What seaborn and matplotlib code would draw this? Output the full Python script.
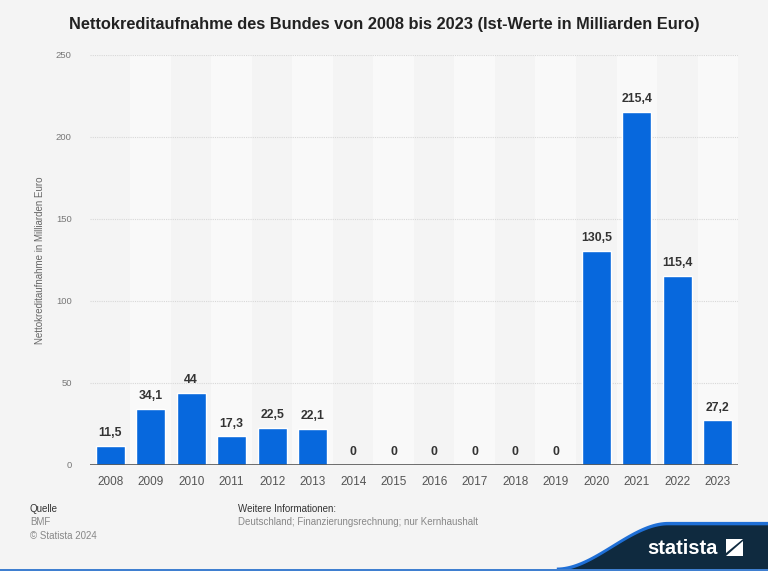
import numpy as np
import pandas as pd
import seaborn as sns
import matplotlib.pyplot as plt
from matplotlib.patches import Polygon, Rectangle

years = ["2008", "2009", "2010", "2011", "2012", "2013", "2014", "2015",
         "2016", "2017", "2018", "2019", "2020", "2021", "2022", "2023"]
values = [11.5, 34.1, 44, 17.3, 22.5, 22.1, 0, 0, 0, 0, 0, 0, 130.5, 215.4, 115.4, 27.2]
labels = ["11,5", "34,1", "44", "17,3", "22,5", "22,1", "0", "0", "0", "0", "0", "0",
          "130,5", "215,4", "115,4", "27,2"]
yticks = [0, 50, 100, 150, 200, 250]

df = pd.DataFrame({"Jahr": years, "Wert": values})

sns.set_style("white")
plt.rcParams['font.family'] = ['Liberation Sans', 'DejaVu Sans']

bg = "#f4f4f4"
fig = plt.figure(figsize=(7.68, 5.71), dpi=100, facecolor=bg)
ax = fig.add_axes([0.117, 0.186, 0.844, 0.718])
ax.set_facecolor(bg)

# alternating column bands
for i in range(len(years)):
    if i % 2 == 1:
        ax.axvspan(i - 0.5, i + 0.5, color="#f9f9f9", zorder=0, lw=0)

sns.barplot(data=df, x="Jahr", y="Wert", color="#0768dd", width=0.72,
            saturation=1, ax=ax, zorder=3)

for i, (v, t) in enumerate(zip(values, labels)):
    ax.text(i, v + 4, t, ha="center", va="bottom", fontsize=8.8,
            fontweight="bold", color="#333333", zorder=4)

ax.set_ylim(0, 250)
ax.set_xlim(-0.5, len(years) - 0.5)
ax.set_yticks(yticks)
for y in yticks[1:]:
    ax.axhline(y, color="#d8d8d8", lw=0.8, ls=(0, (1, 1)), zorder=1)
ax.axhline(0, color="#555555", lw=1.2, zorder=5)

ax.tick_params(axis="y", labelsize=6.8, colors="#777777", length=0, pad=13)
ax.tick_params(axis="x", labelsize=8.5, colors="#555555", length=0, pad=8)
ax.set_xlabel("")
ax.set_ylabel("Nettokreditaufnahme in Milliarden Euro", fontsize=7,
              color="#666666", labelpad=8)
sns.despine(ax=ax, left=True, bottom=True, top=True, right=True)

fig.suptitle("Nettokreditaufnahme des Bundes von 2008 bis 2023 (Ist-Werte in Milliarden Euro)",
             x=0.5, y=0.97, fontsize=11.8, fontweight="bold", color="#222222")

# footer
fig.text(0.039, 0.109, "Quelle", fontsize=7, color="#333333", va="center")
fig.text(0.039, 0.086, "BMF", fontsize=7, color="#888888", va="center")
fig.text(0.039, 0.061, "© Statista 2024", fontsize=7, color="#888888", va="center")
fig.text(0.31, 0.109, "Weitere Informationen:", fontsize=7, color="#333333", va="center")
fig.text(0.31, 0.086, "Deutschland; Finanzierungsrechnung; nur Kernhaushalt",
         fontsize=7, color="#888888", va="center")

# statista logo band
xs = np.linspace(0.725, 1.0, 80)
t = np.clip((xs - 0.725) / 0.145, 0, 1)
top = 0.08 * (3 * t**2 - 2 * t**3)
blue_pts = list(zip(xs, top + 0.006)) + [(1.0, 0.0), (0.725, 0.0)]
navy_pts = list(zip(xs, top)) + [(1.0, 0.0), (0.725, 0.0)]
fig.patches.append(Polygon(blue_pts, closed=True, transform=fig.transFigure,
                           facecolor="#1f6fd6", edgecolor="none"))
fig.patches.append(Polygon(navy_pts, closed=True, transform=fig.transFigure,
                           facecolor="#0f2a3f", edgecolor="none"))
fig.patches.append(Rectangle((0, 0), 1, 0.004, transform=fig.transFigure,
                             facecolor="#3f7fd0", edgecolor="none"))
fig.text(0.843, 0.040, "statista", fontsize=14.5, fontweight="bold", color="white",
         ha="left", va="center")
# stylised icon
fig.patches.append(Polygon([(0.945, 0.027), (0.968, 0.027), (0.968, 0.052), (0.945, 0.027)],
                           closed=True, transform=fig.transFigure,
                           facecolor="white", edgecolor="none"))
fig.patches.append(Polygon([(0.945, 0.031), (0.945, 0.056), (0.968, 0.056)],
                           closed=True, transform=fig.transFigure,
                           facecolor="white", edgecolor="none"))

fig.savefig("out.png", dpi=100, facecolor=bg)
